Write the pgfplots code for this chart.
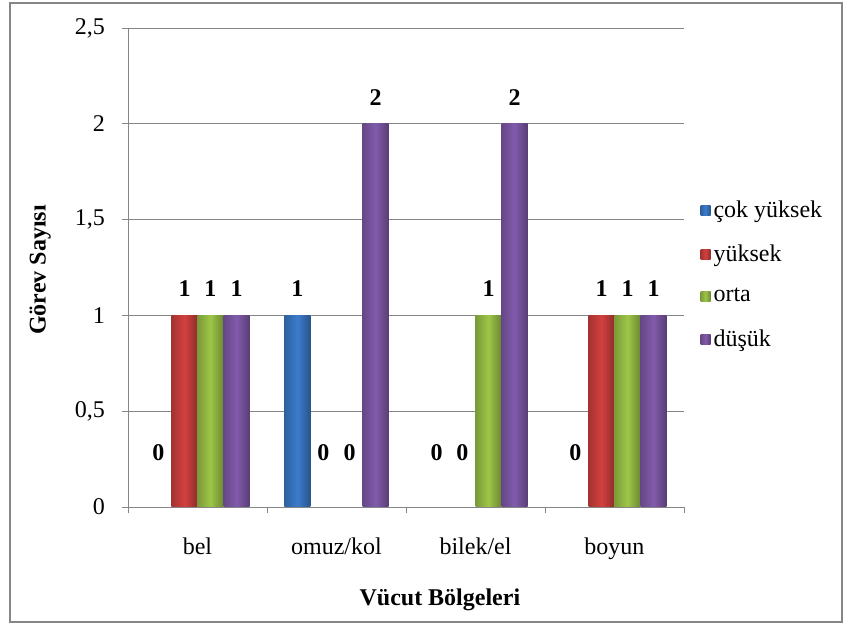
\documentclass[border=0pt]{standalone}
\usepackage{pgfplots}
\pgfplotsset{compat=1.18}
\usepackage{fontspec}
\setmainfont{Liberation Serif}

\definecolor{cokyuksek}{HTML}{3C7CCB}
\definecolor{yuksek}{HTML}{D2413F}
\definecolor{orta}{HTML}{9EC648}
\definecolor{dusuk}{HTML}{825BAC}
\definecolor{framegray}{RGB}{134,134,134}

\newcommand{\twelve}{\fontsize{12}{14}\selectfont}

% one shaded style per severity level; each bar is its own plot so the
% cylinder-like shading is computed per bar
\pgfplotsset{
  shadedbar/.style={draw=none, forget plot,
    left color=#1!78!black, right color=#1!68!black, middle color=#1},
  s1/.style={shadedbar=cokyuksek, bar shift=-19.5pt},
  s2/.style={shadedbar=yuksek,    bar shift=-6.5pt},
  s3/.style={shadedbar=orta,      bar shift=6.5pt},
  s4/.style={shadedbar=dusuk,     bar shift=19.5pt},
}

\begin{document}
\begin{tikzpicture}
\useasboundingbox (0,0) rectangle (423pt,313pt);
\draw[framegray, line width=0.8pt] (5pt,2pt) rectangle (421pt,311.5pt);
\begin{axis}[
  at={(64pt,59.5pt)}, anchor=south west,
  scale only axis, width=278pt, height=239.5pt,
  ybar=0pt, bar width=13pt,
  xmin=-0.5, xmax=3.5, ymin=0, ymax=2.5,
  axis x line*=bottom, axis y line*=left,
  axis line style={draw=framegray, -},
  tick align=outside,
  major tick length=3pt,
  tick style={draw=framegray, thin},
  xtick={-0.5,0.5,1.5,2.5,3.5}, xticklabels={},
  extra x ticks={0,1,2,3},
  extra x tick labels={bel,omuz/kol,bilek/el,boyun},
  extra x tick style={major tick length=0pt, grid=none,
    xticklabel style={yshift=-12pt}},
  ytick={0,0.5,1,1.5,2,2.5},
  ymajorgrids, major grid style={draw=framegray, thin},
  /pgf/number format/use comma,
  /pgf/number format/assume math mode=true,
  yticklabel style={xshift=-5pt},
  every tick label/.append style={font=\twelve},
  xlabel={Vücut Bölgeleri}, ylabel={Görev Sayısı},
  label style={font=\bfseries\twelve},
  xlabel style={at={(axis description cs:0.561,-0.194)}, anchor=center},
  ylabel style={at={(axis description cs:-0.158,0.495)}, anchor=center},
  clip=false,
  nodes near coords,
  visualization depends on={y \as \ry},
  every node near coord/.append style={font=\bfseries\twelve, text=black,
    yshift={ifthenelse(\ry==0,19.7,5.7)}},
  legend image code/.code={\path[#1, draw=none] (0pt,-2.5pt) rectangle (5pt,2.5pt);},
  legend style={at={(axis description cs:1.029,0.485)}, anchor=west,
    draw=none, fill=none, inner sep=0pt, font=\twelve, row sep=8.2pt,
    nodes={inner xsep=1.5pt}},
  legend cell align=left,
]
% bel
\addplot[s1] coordinates {(0,0)};
\addplot[s2] coordinates {(0,1)};
\addplot[s3] coordinates {(0,1)};
\addplot[s4] coordinates {(0,1)};
% omuz/kol
\addplot[s1] coordinates {(1,1)};
\addplot[s2] coordinates {(1,0)};
\addplot[s3] coordinates {(1,0)};
\addplot[s4] coordinates {(1,2)};
% bilek/el
\addplot[s1] coordinates {(2,0)};
\addplot[s2] coordinates {(2,0)};
\addplot[s3] coordinates {(2,1)};
\addplot[s4] coordinates {(2,2)};
% boyun
\addplot[s1] coordinates {(3,0)};
\addplot[s2] coordinates {(3,1)};
\addplot[s3] coordinates {(3,1)};
\addplot[s4] coordinates {(3,1)};

\addlegendimage{left color=cokyuksek!78!black, right color=cokyuksek!68!black, middle color=cokyuksek}
\addlegendentry{çok yüksek}
\addlegendimage{left color=yuksek!78!black, right color=yuksek!68!black, middle color=yuksek}
\addlegendentry{yüksek}
\addlegendimage{left color=orta!78!black, right color=orta!68!black, middle color=orta}
\addlegendentry{orta}
\addlegendimage{left color=dusuk!78!black, right color=dusuk!68!black, middle color=dusuk}
\addlegendentry{düşük}
\end{axis}
\end{tikzpicture}
\end{document}
